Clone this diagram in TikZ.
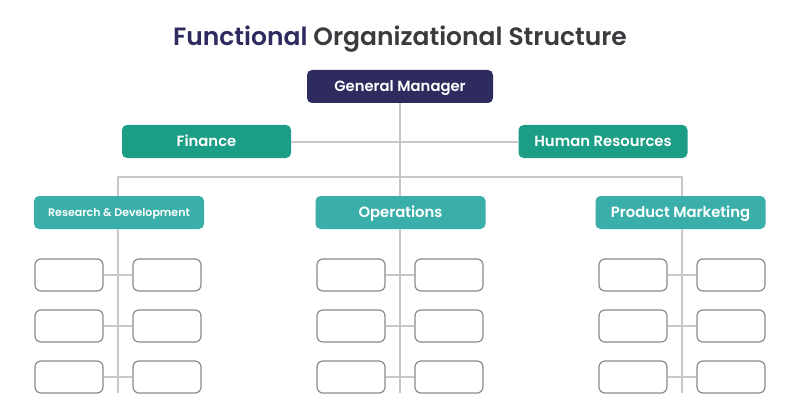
\documentclass[tikz,border=0pt]{standalone}
\usepackage{fontspec}
\setmainfont{Poppins}[BoldFont={Poppins SemiBold}]
\usetikzlibrary{positioning}
\definecolor{navy}{HTML}{2E2B5F}
\definecolor{titlegray}{HTML}{3A3A3F}
\definecolor{deepteal}{HTML}{1B9E85}
\definecolor{softteal}{HTML}{3AAFA9}
\definecolor{linegray}{HTML}{C8C8C8}
\definecolor{slotgray}{HTML}{8A8A8A}
\tikzset{
  box/.style={rounded corners=5pt,text=white,font=\bfseries\fontsize{14.8}{17}\selectfont,minimum height=33pt,inner sep=0pt,text height=10pt,text depth=0pt},
  head/.style={box,fill=navy,minimum width=186pt},
  func/.style={box,fill=deepteal,minimum width=169pt},
  dept/.style={box,fill=softteal,minimum width=170pt},
  slot/.style={draw=slotgray,line width=1.2pt,fill=white,rounded corners=6pt,minimum width=68pt,minimum height=32pt,inner sep=0pt},
  link/.style={draw=linegray,line width=2pt}
}
\begin{document}
\begin{tikzpicture}[x=1pt,y=-1pt]
\useasboundingbox (0,0) rectangle (800,417);
\node[font=\bfseries\fontsize{25}{29}\selectfont,text=titlegray,text height=18pt,text depth=0pt] (title) at (400,37) {\textcolor{navy}{Functional} Organizational Structure};

% top levels
\coordinate (split) at (400,177);
\node[head] (gm) at (400,86.5) {General Manager};
\node[func] (fin) at (206.5,141.5) {Finance};
\node[func] (hr) at (603,141.5) {Human Resources};
\node[dept,font=\bfseries\fontsize{11}{13}\selectfont,text height=7.7pt] (rd) at (119,212.5) {Research \& Development};
\node[dept] (ops) at (400.5,212.5) {Operations};
\node[dept] (pm) at (680.5,212.5) {Product Marketing};

\coordinate (rd-top) at (118,177);
\coordinate (pm-top) at (682,177);
\draw[link] (gm) -- (split);
\draw[link] (fin) -- (hr);
\draw[link] (rd.north -| rd-top) -- (rd-top) -- (pm-top) -- (pm.north -| pm-top);
\draw[link] (split) -- (ops.north -| split);

% sub units
\foreach \c/\x in {rd/118,ops/400,pm/682}{
  \coordinate (\c-end) at (\x,393);
  \draw[link] (\c.south -| \c-end) -- (\c-end);
  \foreach \r/\y in {1/275,2/326,3/377}{
    \node[slot] (\c-\r-l) at (\x-49,\y) {};
    \node[slot] (\c-\r-r) at (\x+49,\y) {};
    \draw[link] (\c-\r-l) -- (\c-\r-r);
  }
}
\end{tikzpicture}
\end{document}
